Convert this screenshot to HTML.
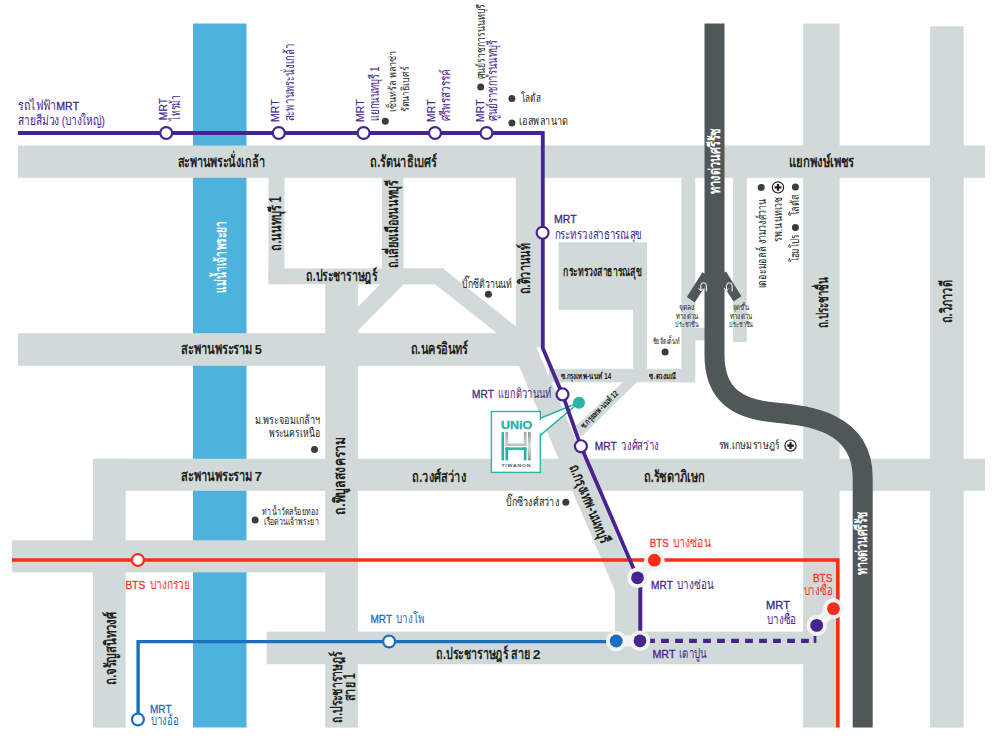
<!DOCTYPE html>
<html lang="th"><head><meta charset="utf-8"><title>UNiO H Tiwanon map</title>
<style>
html,body{margin:0;padding:0;background:#fff}
body{width:1000px;height:746px;overflow:hidden;font-family:"Liberation Sans",sans-serif}
svg{display:block}
svg text{font-family:"Liberation Sans",sans-serif;font-kerning:none}
</style></head><body>
<svg width="1000" height="746" viewBox="0 0 1000 746">
<rect width="1000" height="746" fill="#fff"/>
<!-- river -->
<rect x="193" y="23.5" width="53.5" height="704" fill="#4db3dc"/>
<!-- roads -->
<g fill="#d2dad9">
<rect x="18" y="145.5" width="967" height="32.3"/>
<rect x="18" y="333.2" width="514" height="32.6"/>
<rect x="93" y="458.8" width="892" height="32"/>
<rect x="12" y="540.3" width="346" height="32.1"/>
<rect x="266.7" y="631.6" width="573" height="32.6"/>
<rect x="93" y="458.8" width="32.6" height="268.8"/>
<rect x="268.5" y="177" width="16" height="107.2"/>
<rect x="268.5" y="268.4" width="176" height="15.8"/>
<rect x="325.2" y="283" width="32.7" height="444.6"/>
<rect x="382.1" y="177" width="21.4" height="95"/>
<polygon points="357.5,307.5 380.4,284 404,284 357.5,331"/>
<polygon points="443,268.4 516,326.5 530,326.5 530,360 497.5,333.5 435,284.2 400,284.2 400,268.4"/>
<rect x="515.8" y="177" width="25" height="170.3"/>
<polygon points="515.8,347 536.4,347.3 640.1,590.3 640.5,632 614.8,632 614.8,590.3 519,366.1 515.8,366"/>
<rect x="558.6" y="242.3" width="88.4" height="67.5"/>
<rect x="633.2" y="300" width="13.8" height="70"/>
<rect x="549" y="368.8" width="146" height="13.5"/>
<polygon points="623,382 637,382 581,437 576,426"/>
<rect x="681.4" y="177" width="13.9" height="205.3"/>
<rect x="695" y="327.8" width="10" height="12.5"/>
<rect x="733" y="177" width="13.8" height="165"/>
<rect x="803.1" y="23.5" width="36.5" height="704"/>
<rect x="930.1" y="26.3" width="33.6" height="701.3"/>
</g>
<!-- expressway -->
<g fill="#4f5759">
<polygon points="702.5,272.3 711,277.4 694.7,302.6 686.8,297"/>
<polygon points="726,271.6 717.6,277 733.6,301.6 741.4,296.2"/>
</g>
<path d="M714.5 23.5 V355 C714.5 398 742 410 775 412.5 C805 415.5 862.7 420 862.7 478 V727.6" fill="none" stroke="#4f5759" stroke-width="20"/>

<!-- UNiO callout -->
<polygon points="540.3,418.3 579,402.5 540.3,435.3" fill="#fff" stroke="#2bb3a3" stroke-width="1.6"/>
<rect x="491.4" y="411.5" width="48.9" height="60.9" fill="#fff" stroke="#2bb3a3" stroke-width="1.4"/>
<rect x="539" y="420" width="2.6" height="13.4" fill="#fff"/>
<!-- BTS red -->
<path d="M12 560 H837.8 V727.6" fill="none" stroke="#fb2d18" stroke-width="3.6"/>
<!-- blue -->
<path d="M138.1 714 V641.6 H616" fill="none" stroke="#1a70be" stroke-width="3.4"/>
<!-- purple dashed -->
<path d="M647.1 640.8 H810" fill="none" stroke="#47248f" stroke-width="4.2" stroke-dasharray="7.8 6.2"/>
<rect x="813.7" y="636" width="2.7" height="6.9" fill="#47248f"/>
<!-- purple line -->
<path d="M18 133 H542.8 V348.2 L562.5 394.4 L580.9 446.2 L636.5 575.5" fill="none" stroke="#47248f" stroke-width="3.8" stroke-linejoin="miter"/>
<path d="M640.3 578 V641" fill="none" stroke="#47248f" stroke-width="4"/>
<!-- halos -->
<g fill="#f3f5f5" stroke="#f3f5f5" stroke-width="11" stroke-linecap="butt">
<path d="M654.4 560.2 L637.5 577.8"/>
<path d="M616.2 641 L640 640.8"/>
<path d="M833.5 608.6 L816.7 625.4"/>
</g>
<g fill="#f3f5f5">
<circle cx="654.4" cy="560.2" r="10.3"/><circle cx="637.5" cy="577.8" r="10.3"/>
<circle cx="616.2" cy="641" r="10.3"/><circle cx="640" cy="640.8" r="10.3"/>
<circle cx="833.5" cy="608.6" r="10.3"/><circle cx="816.7" cy="625.4" r="10.3"/>
</g>
<!-- filled stations -->
<circle cx="654.4" cy="560.2" r="6.4" fill="#fb2d18"/>
<circle cx="637.5" cy="577.8" r="6.4" fill="#47248f"/>
<circle cx="616.2" cy="641" r="6.5" fill="#1a70be"/>
<circle cx="640" cy="640.8" r="6.4" fill="#47248f"/>
<circle cx="833.5" cy="608.6" r="6.4" fill="#fb2d18"/>
<circle cx="816.7" cy="625.4" r="6.4" fill="#47248f"/>
<!-- open stations -->
<g fill="#fff" stroke="#47248f" stroke-width="2.2">
<circle cx="166.2" cy="133" r="5.95"/>
<circle cx="278.8" cy="133" r="5.95"/>
<circle cx="363.6" cy="133" r="5.95"/>
<circle cx="435" cy="133" r="5.95"/>
<circle cx="486.5" cy="133" r="5.95"/>
<circle cx="542.6" cy="232.8" r="5.95"/>
<circle cx="562.5" cy="394.4" r="5.95"/>
<circle cx="580.9" cy="446.2" r="5.95"/>
</g>
<circle cx="137.9" cy="560" r="5.95" fill="#fff" stroke="#fb2d18" stroke-width="2.2"/>
<g fill="#fff" stroke="#1a70be" stroke-width="2.2">
<circle cx="389.1" cy="641.5" r="5.95"/>
<circle cx="137.9" cy="719.5" r="5.95"/>
</g>
<!-- site dot -->
<circle cx="579" cy="402.7" r="6" fill="#2bb3a3"/>

<!-- POI dots -->
<g fill="#3a3d3f">
<circle cx="385.3" cy="121.2" r="3.5"/>
<circle cx="480.7" cy="87.1" r="3.5"/>
<circle cx="511.9" cy="98.5" r="3.5"/>
<circle cx="511.9" cy="122.9" r="3.5"/>
<circle cx="488.4" cy="294.2" r="3.5"/>
<circle cx="665.1" cy="351.9" r="3.5"/>
<circle cx="761.2" cy="187.4" r="3.5"/>
<circle cx="795.4" cy="186.9" r="3.5"/>
<circle cx="795.4" cy="227.5" r="3.5"/>
<circle cx="314.5" cy="449.4" r="3.5"/>
<circle cx="255.1" cy="520.1" r="3.5"/>
<circle cx="565.8" cy="502.3" r="3.5"/>
</g>
<!-- hospital icons -->
<g id="hosp1" transform="translate(778 187.4)"><circle r="5.6" fill="#fff" stroke="#231f20" stroke-width="1.2"/><path d="M-3.4 0H3.4M0 -3.4V3.4" stroke="#231f20" stroke-width="2.3" fill="none"/></g>
<g id="hosp2" transform="translate(790.5 445.6)"><circle r="5.6" fill="#fff" stroke="#231f20" stroke-width="1.2"/><path d="M-3.4 0H3.4M0 -3.4V3.4" stroke="#231f20" stroke-width="2.3" fill="none"/></g>
<!-- u-turn arrows -->
<g fill="none" stroke="#fff" stroke-width="1" stroke-linecap="butt">
<path d="M706.4 291.5 V285.6 A2.8 2.8 0 0 0 700.8 285.6 V290.5 M698.6 288.4 L700.9 291 L702.6 288.6"/>
<path d="M732.1 291.5 V285.6 A2.8 2.8 0 0 0 726.5 285.6 V290.5 M724.3 288.4 L726.6 291 L728.3 288.6"/>
</g>
<!-- UNiO logo -->
<defs><linearGradient id="slv" x1="0" y1="0" x2="0" y2="1"><stop offset="0" stop-color="#8e9597"/><stop offset=".5" stop-color="#d9dddd"/><stop offset="1" stop-color="#8e9597"/></linearGradient>
<linearGradient id="slv2" x1="0" y1="0" x2="0" y2="1"><stop offset="0" stop-color="#9aa1a3"/><stop offset="1" stop-color="#cfd4d4"/></linearGradient></defs>
<text transform="translate(500.9 428.9) scale(1.19 1)" font-size="10.5" font-weight="bold" fill="#2bb3a3" stroke="#2bb3a3" stroke-width=".35">UNiO</text>
<rect x="501.5" y="432.1" width="2.6" height="28.3" fill="#2bb3a3"/>
<rect x="505.4" y="432.1" width="2.8" height="13.7" fill="url(#slv2)"/>
<rect x="523.8" y="432.1" width="2.7" height="13.7" fill="url(#slv2)"/>
<rect x="505.4" y="443.6" width="21.1" height="2.3" fill="#b9bfc0"/>
<rect x="505.4" y="447.4" width="21.1" height="2.5" fill="#2bb3a3"/>
<rect x="505.4" y="447.4" width="2.8" height="13" fill="#2bb3a3"/>
<rect x="523.8" y="447.4" width="2.7" height="13" fill="#2bb3a3"/>
<rect x="528" y="432.1" width="2.8" height="28.3" fill="url(#slv)"/>
<text transform="translate(501.5 466.5) scale(1.2 1)" font-size="4.4" font-weight="bold" fill="#55595b" letter-spacing="0.55">TIWANON</text>

<!-- labels -->
<text transform="translate(57.20 110.20) scale(1.0020 1) translate(-0.86 0)" font-size="10.51" stroke="#45258c" stroke-width=".3" fill="#45258c">MRT</text>
<text transform="translate(255.10 353.90) scale(1.0536 1) translate(-0.38 0)" font-size="12.21" font-weight="bold" fill="#231f20">5</text>
<text transform="translate(255.10 480.70) scale(1.1172 1) translate(-0.52 0)" font-size="12.21" font-weight="bold" fill="#231f20">7</text>
<text transform="translate(533.30 658.80) scale(1.1399 1) translate(-0.42 0)" font-size="12.21" font-weight="bold" fill="#231f20">2</text>
<text transform="translate(554.80 222.70) scale(0.9974 1) translate(-0.86 0)" font-size="10.51" stroke="#45258c" stroke-width=".3" fill="#45258c">MRT</text>
<text transform="translate(472.90 397.50) scale(0.9558 1) translate(-0.86 0)" font-size="10.51" stroke="#45258c" stroke-width=".3" fill="#45258c">MRT</text>
<text transform="translate(595.60 449.90) scale(0.9697 1) translate(-0.86 0)" font-size="10.51" stroke="#45258c" stroke-width=".3" fill="#45258c">MRT</text>
<text transform="translate(650.60 546.80) scale(0.9219 1) translate(-0.86 0)" font-size="10.51" stroke="#f5321c" stroke-width=".3" fill="#f5321c">BTS</text>
<text transform="translate(651.80 588.80) scale(0.9605 1) translate(-0.86 0)" font-size="10.51" stroke="#45258c" stroke-width=".3" fill="#45258c">MRT</text>
<text transform="translate(653.30 658.20) scale(1.0205 1) translate(-0.86 0)" font-size="10.51" stroke="#45258c" stroke-width=".3" fill="#45258c">MRT</text>
<text transform="translate(766.90 608.50) scale(1.0574 1) translate(-0.86 0)" font-size="10.51" stroke="#45258c" stroke-width=".3" fill="#45258c">MRT</text>
<text transform="translate(813.70 582.00) scale(0.9533 1) translate(-0.86 0)" font-size="10.51" stroke="#f5321c" stroke-width=".3" fill="#f5321c">BTS</text>
<text transform="translate(126.40 588.70) scale(0.9586 1) translate(-0.86 0)" font-size="10.51" stroke="#f5321c" stroke-width=".3" fill="#f5321c">BTS</text>
<text transform="translate(371.30 623.00) scale(0.9466 1) translate(-0.86 0)" font-size="10.51" stroke="#1a6cba" stroke-width=".3" fill="#1a6cba">MRT</text>
<text transform="translate(150.80 713.00) scale(0.9558 1) translate(-0.86 0)" font-size="10.51" stroke="#1a6cba" stroke-width=".3" fill="#1a6cba">MRT</text>
<text transform="translate(166.60 119.30) rotate(-90) scale(1.0133 1) translate(-0.83 0)" font-size="10.15" stroke="#45258c" stroke-width=".15" fill="#45258c">MRT</text>
<text transform="translate(278.90 121.20) rotate(-90) scale(1.0324 1) translate(-0.83 0)" font-size="10.15" stroke="#45258c" stroke-width=".15" fill="#45258c">MRT</text>
<text transform="translate(363.70 121.20) rotate(-90) scale(1.0324 1) translate(-0.83 0)" font-size="10.15" stroke="#45258c" stroke-width=".15" fill="#45258c">MRT</text>
<text transform="translate(434.80 121.10) rotate(-90) scale(1.0229 1) translate(-0.83 0)" font-size="10.15" stroke="#45258c" stroke-width=".15" fill="#45258c">MRT</text>
<text transform="translate(483.60 121.10) rotate(-90) scale(1.0229 1) translate(-0.83 0)" font-size="10.15" stroke="#45258c" stroke-width=".15" fill="#45258c">MRT</text>
<g id="text-layer" lengthAdjust="spacingAndGlyphs">
<text transform="translate(18.10 110.20)" font-size="13.2" fill="#45258c" textLength="37.6" lengthAdjust="spacingAndGlyphs">รถไฟฟ้า</text>
<text transform="translate(18.10 124.70)" font-size="13.2" fill="#45258c" textLength="86.7" lengthAdjust="spacingAndGlyphs">สายสีม่วง (บางใหญ่)</text>
<text transform="translate(521.10 102.00)" font-size="11.6" fill="#231f20" textLength="19.7" lengthAdjust="spacingAndGlyphs">โลตัส</text>
<text transform="translate(519.30 125.10)" font-size="11.6" fill="#231f20" textLength="49.2" lengthAdjust="spacingAndGlyphs">เอสพลานาด</text>
<text transform="translate(177.50 166.60)" font-size="15.8" font-weight="bold" fill="#231f20" textLength="87.3" lengthAdjust="spacingAndGlyphs">สะพานพระนั่งเกล้า</text>
<text transform="translate(370.20 166.60)" font-size="15.8" font-weight="bold" fill="#231f20" textLength="66.4" lengthAdjust="spacingAndGlyphs">ถ.รัตนาธิเบศร์</text>
<text transform="translate(789.30 167.00)" font-size="15.8" font-weight="bold" fill="#231f20" textLength="64.9" lengthAdjust="spacingAndGlyphs">แยกพงษ์เพชร</text>
<text transform="translate(181.30 353.90)" font-size="15.8" font-weight="bold" fill="#231f20" textLength="71.2" lengthAdjust="spacingAndGlyphs">สะพานพระราม</text>
<text transform="translate(410.50 354.00)" font-size="15.8" font-weight="bold" fill="#231f20" textLength="57.4" lengthAdjust="spacingAndGlyphs">ถ.นครอินทร์</text>
<text transform="translate(181.30 480.70)" font-size="15.8" font-weight="bold" fill="#231f20" textLength="71.2" lengthAdjust="spacingAndGlyphs">สะพานพระราม</text>
<text transform="translate(412.20 481.60)" font-size="15.8" font-weight="bold" fill="#231f20" textLength="54" lengthAdjust="spacingAndGlyphs">ถ.วงศ์สว่าง</text>
<text transform="translate(643.80 481.60)" font-size="15.8" font-weight="bold" fill="#231f20" textLength="61" lengthAdjust="spacingAndGlyphs">ถ.รัชดาภิเษก</text>
<text transform="translate(306.20 280.50)" font-size="15.8" font-weight="bold" fill="#231f20" textLength="70.9" lengthAdjust="spacingAndGlyphs">ถ.ประชาราษฎร์</text>
<text transform="translate(436.30 658.80)" font-size="15.8" font-weight="bold" fill="#231f20" textLength="94" lengthAdjust="spacingAndGlyphs">ถ.ประชาราษฎร์ สาย</text>
<text transform="translate(554.80 238.50)" font-size="13.6" fill="#45258c" textLength="86.8" lengthAdjust="spacingAndGlyphs">กระทรวงสาธารณสุข</text>
<text transform="translate(563.20 276.30)" font-size="12.8" font-weight="bold" fill="#231f20" textLength="78.8" lengthAdjust="spacingAndGlyphs">กระทรวงสาธารณสุข</text>
<text transform="translate(462.00 288.00)" font-size="11.9" fill="#231f20" textLength="50.1" lengthAdjust="spacingAndGlyphs">บิ๊กซีติวานนท์</text>
<text transform="translate(498.10 397.50)" font-size="13.4" fill="#45258c" textLength="53.6" lengthAdjust="spacingAndGlyphs">แยกติวานนท์</text>
<text transform="translate(621.10 449.90)" font-size="13.4" fill="#45258c" textLength="38.1" lengthAdjust="spacingAndGlyphs">วงศ์สว่าง</text>
<text transform="translate(560.50 378.90)" font-size="8.4" font-weight="bold" fill="#231f20" textLength="50.6" lengthAdjust="spacingAndGlyphs">ซ.กรุงเทพ-นนท์ 14</text>
<text transform="translate(649.40 378.70)" font-size="8.4" font-weight="bold" fill="#231f20" textLength="27" lengthAdjust="spacingAndGlyphs">ซ.ดวงมณี</text>
<text transform="translate(652.70 343.60)" font-size="8.6" fill="#231f20" textLength="27.1" lengthAdjust="spacingAndGlyphs">ชัยจัดเต็นท์</text>
<text transform="translate(679.10 310.20)" font-size="7.3" fill="#231f20" textLength="15.8" lengthAdjust="spacingAndGlyphs">จุดลง</text>
<text transform="translate(675.90 318.70)" font-size="7.3" fill="#231f20" textLength="22.3" lengthAdjust="spacingAndGlyphs">ทางด่วน</text>
<text transform="translate(675.10 327.20)" font-size="7.3" fill="#231f20" textLength="23.8" lengthAdjust="spacingAndGlyphs">ประชาชื่น</text>
<text transform="translate(733.20 310.20)" font-size="7.3" fill="#231f20" textLength="15.4" lengthAdjust="spacingAndGlyphs">จุดขึ้น</text>
<text transform="translate(729.80 318.70)" font-size="7.3" fill="#231f20" textLength="22.3" lengthAdjust="spacingAndGlyphs">ทางด่วน</text>
<text transform="translate(729.10 327.20)" font-size="7.3" fill="#231f20" textLength="23.9" lengthAdjust="spacingAndGlyphs">ประชาชื่น</text>
<text transform="translate(718.70 449.40)" font-size="11.6" fill="#231f20" textLength="60.8" lengthAdjust="spacingAndGlyphs">รพ.เกษมราษฎร์</text>
<text transform="translate(254.50 424.40)" font-size="11.7" fill="#231f20" textLength="66" lengthAdjust="spacingAndGlyphs">ม.พระจอมเกล้าฯ</text>
<text transform="translate(268.60 437.00)" font-size="11.7" fill="#231f20" textLength="51.3" lengthAdjust="spacingAndGlyphs">พระนครเหนือ</text>
<text transform="translate(262.40 514.50)" font-size="9.9" fill="#231f20" textLength="56.3" lengthAdjust="spacingAndGlyphs">ท่าน้ำวัดสร้อยทอง</text>
<text transform="translate(264.40 524.90)" font-size="9.9" fill="#231f20" textLength="54.5" lengthAdjust="spacingAndGlyphs">เรือด่วนเจ้าพระยา</text>
<text transform="translate(505.60 505.60)" font-size="11.9" fill="#231f20" textLength="53.5" lengthAdjust="spacingAndGlyphs">บิ๊กซีวงศ์สว่าง</text>
<text transform="translate(672.60 546.80)" font-size="13.4" fill="#f5321c" textLength="38.1" lengthAdjust="spacingAndGlyphs">บางซ่อน</text>
<text transform="translate(677.40 588.80)" font-size="13.4" fill="#45258c" textLength="35.9" lengthAdjust="spacingAndGlyphs">บางซ่อน</text>
<text transform="translate(678.50 658.20)" font-size="13.4" fill="#45258c" textLength="28.1" lengthAdjust="spacingAndGlyphs">เตาปูน</text>
<text transform="translate(766.90 623.60)" font-size="13.4" fill="#45258c" textLength="29.1" lengthAdjust="spacingAndGlyphs">บางซื่อ</text>
<text transform="translate(803.60 595.00)" font-size="13.4" fill="#f5321c" textLength="29.3" lengthAdjust="spacingAndGlyphs">บางซื่อ</text>
<text transform="translate(149.70 588.70)" font-size="13.4" fill="#f5321c" textLength="40.7" lengthAdjust="spacingAndGlyphs">บางกรวย</text>
<text transform="translate(396.30 623.00)" font-size="13.4" fill="#1a6cba" textLength="28.4" lengthAdjust="spacingAndGlyphs">บางโพ</text>
<text transform="translate(150.80 725.30)" font-size="13.4" fill="#1a6cba" textLength="27.9" lengthAdjust="spacingAndGlyphs">บางอ้อ</text>
<text transform="translate(180.10 120.60) rotate(-90)" font-size="13.4" fill="#45258c" textLength="25.6" lengthAdjust="spacingAndGlyphs">ไทรม้า</text>
<text transform="translate(293.60 121.20) rotate(-90)" font-size="13.4" fill="#45258c" textLength="77.6" lengthAdjust="spacingAndGlyphs">สะพานพระนั่งเกล้า</text>
<text transform="translate(379.20 121.20) rotate(-90)" font-size="13.4" fill="#45258c" textLength="54.6" lengthAdjust="spacingAndGlyphs">แยกนนทบุรี 1</text>
<text transform="translate(450.00 121.10) rotate(-90)" font-size="13.4" fill="#45258c" textLength="52.1" lengthAdjust="spacingAndGlyphs">ศรีพรสวรรค์</text>
<text transform="translate(496.70 121.10) rotate(-90)" font-size="13.4" fill="#45258c" textLength="81" lengthAdjust="spacingAndGlyphs">ศูนย์ราชการนนทบุรี</text>
<text transform="translate(395.70 112.40) rotate(-90)" font-size="10.6" fill="#231f20" textLength="61.2" lengthAdjust="spacingAndGlyphs">เซ็นทรัล พลาซ่า</text>
<text transform="translate(408.80 112.40) rotate(-90)" font-size="10.6" fill="#231f20" textLength="46.4" lengthAdjust="spacingAndGlyphs">รัตนาธิเบศร์</text>
<text transform="translate(484.80 79.30) rotate(-90)" font-size="11.6" fill="#231f20" textLength="75" lengthAdjust="spacingAndGlyphs">ศูนย์ราชการนนทบุรี</text>
<text transform="translate(226.40 292.70) rotate(-90)" font-size="15.4" font-weight="bold" fill="#fff" textLength="71.7" lengthAdjust="spacingAndGlyphs">แม่น้ำเจ้าพระยา</text>
<text transform="translate(280.50 250.60) rotate(-90)" font-size="15.8" font-weight="bold" fill="#231f20" textLength="54.2" lengthAdjust="spacingAndGlyphs">ถ.นนทบุรี 1</text>
<text transform="translate(398.00 268.30) rotate(-90)" font-size="15.8" font-weight="bold" fill="#231f20" textLength="88" lengthAdjust="spacingAndGlyphs">ถ.เลี่ยงเมืองนนทบุรี</text>
<text transform="translate(530.20 294.20) rotate(-90)" font-size="15.8" font-weight="bold" fill="#231f20" textLength="50.6" lengthAdjust="spacingAndGlyphs">ถ.ติวานนท์</text>
<text transform="translate(719.90 193.90) rotate(-90)" font-size="15.8" font-weight="bold" fill="#fff" textLength="65.8" lengthAdjust="spacingAndGlyphs">ทางด่วนศรีรัช</text>
<text transform="translate(866.60 575.30) rotate(-90)" font-size="15.8" font-weight="bold" fill="#fff" textLength="64.2" lengthAdjust="spacingAndGlyphs">ทางด่วนศรีรัช</text>
<text transform="translate(827.80 328.30) rotate(-90)" font-size="15.8" font-weight="bold" fill="#231f20" textLength="51.1" lengthAdjust="spacingAndGlyphs">ถ.ประชาชื่น</text>
<text transform="translate(951.50 323.40) rotate(-90)" font-size="15.8" font-weight="bold" fill="#231f20" textLength="43.1" lengthAdjust="spacingAndGlyphs">ถ.วิภาวดี</text>
<text transform="translate(766.10 288.40) rotate(-90)" font-size="12.5" fill="#231f20" textLength="89.9" lengthAdjust="spacingAndGlyphs">เดอะมอลล์ งามวงศ์วาน</text>
<text transform="translate(781.80 241.80) rotate(-90)" font-size="12.5" fill="#231f20" textLength="44.8" lengthAdjust="spacingAndGlyphs">รพ.นนทเวช</text>
<text transform="translate(798.90 262.30) rotate(-90)" font-size="11.9" fill="#231f20" textLength="27.3" lengthAdjust="spacingAndGlyphs">โฮมโปร</text>
<text transform="translate(798.90 216.20) rotate(-90)" font-size="11.9" fill="#231f20" textLength="21.2" lengthAdjust="spacingAndGlyphs">โลตัส</text>
<text transform="translate(344.60 514.50) rotate(-90)" font-size="15.8" font-weight="bold" fill="#231f20" textLength="77.4" lengthAdjust="spacingAndGlyphs">ถ.พิบูลสงคราม</text>
<text transform="translate(115.50 685.00) rotate(-90)" font-size="15.8" font-weight="bold" fill="#231f20" textLength="73.1" lengthAdjust="spacingAndGlyphs">ถ.จรัญสนิทวงศ์</text>
<text transform="translate(342.00 722.50) rotate(-90)" font-size="15.8" font-weight="bold" fill="#231f20" textLength="70.9" lengthAdjust="spacingAndGlyphs">ถ.ประชาราษฎร์</text>
<text transform="translate(355.00 701.30) rotate(-90)" font-size="15.8" font-weight="bold" fill="#231f20" textLength="27.9" lengthAdjust="spacingAndGlyphs">สาย 1</text>
<text transform="translate(569.30 467.30) rotate(67.7)" font-size="15.2" font-weight="bold" fill="#231f20" textLength="83.8" lengthAdjust="spacingAndGlyphs">ถ.กรุงเทพ-นนทบุรี</text>
<text transform="translate(583.80 429.20) rotate(-45.2)" font-size="8.4" font-weight="bold" fill="#231f20" textLength="49.6" lengthAdjust="spacingAndGlyphs">ซ.กรุงเทพ-นนท์ 12</text>
</g>

</svg>
</body></html>
